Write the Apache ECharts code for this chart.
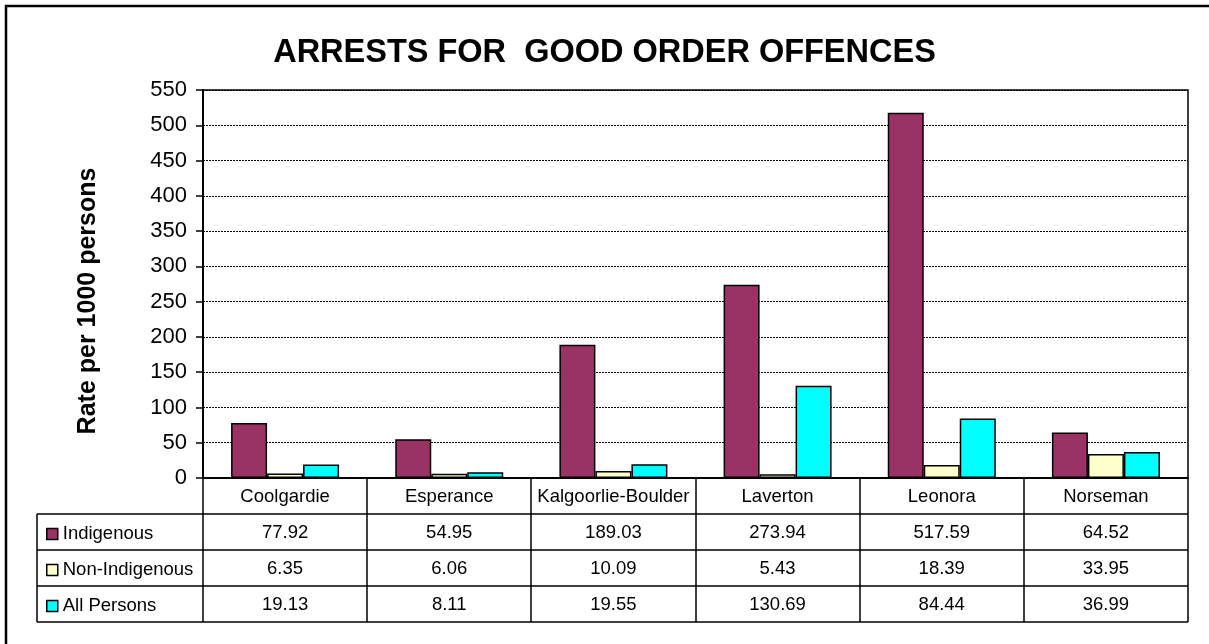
<!DOCTYPE html>
<html>
<head>
<meta charset="utf-8">
<title>Arrests for good order offences</title>
<script src="https://cdn.jsdelivr.net/npm/echarts@6/dist/echarts.min.js"></script>
<style>
  html, body { margin: 0; padding: 0; background: #fff; }
  #main { width: 1209px; height: 644px; }
</style>
</head>
<body>
<div id="main"></div>
<script>
// data
var towns = ['Coolgardie', 'Esperance', 'Kalgoorlie-Boulder', 'Laverton', 'Leonora', 'Norseman'];
var indigenous = [77.92, 54.95, 189.03, 273.94, 517.59, 64.52];
var nonIndigenous = [6.35, 6.06, 10.09, 5.43, 18.39, 33.95];
var allPersons = [19.13, 8.11, 19.55, 130.69, 84.44, 36.99];
var seriesNames = ['Indigenous', 'Non-Indigenous', 'All Persons'];
var seriesColors = ['#993366', '#FFFFCC', '#00FFFF'];
var yTicks = { min: 0, max: 550, step: 50 };

var FONT = 'Arial, "Liberation Sans", sans-serif';
var chart = echarts.init(document.getElementById('main'));

// table layout (plot area + 3 data rows below the axis)
var plotL = 203, plotR = 1188, plotT = 90, plotB = 478;
var rowH = 36, tableL = 37;

var tableLines = [];
for (var r = 1; r <= 4; r++) {
  tableLines.push({
    type: 'line',
    shape: { x1: tableL, y1: plotB + r * rowH, x2: plotR, y2: plotB + r * rowH },
    style: { stroke: '#000', lineWidth: 1.5 }
  });
}
tableLines.push({
  type: 'line',
  shape: { x1: tableL, y1: plotB + rowH, x2: tableL, y2: plotB + 4 * rowH },
  style: { stroke: '#000', lineWidth: 1.5 }
});
// column separators of the data table
var colW = (plotR - plotL) / towns.length;
for (var c = 0; c <= towns.length; c++) {
  var cx = Math.round(plotL + c * colW);
  tableLines.push({
    type: 'line',
    shape: { x1: cx, y1: plotB, x2: cx, y2: plotB + 4 * rowH },
    style: { stroke: '#000', lineWidth: 1.5 }
  });
}
// outer chart-area frame (only left/top are visible in the picture)
tableLines.push({
  type: 'rect',
  shape: { x: 6, y: 6, width: 1260, height: 700 },
  style: { fill: null, stroke: '#000', lineWidth: 2.5 }
});

var seriesData = [indigenous, nonIndigenous, allPersons];

var option = {
  animation: false,
  backgroundColor: '#fff',
  title: {
    text: 'ARRESTS FOR  GOOD ORDER OFFENCES',
    left: 'center',
    top: 32,
    textStyle: { fontFamily: FONT, fontSize: 32.5, fontWeight: 'bold', color: '#000' }
  },
  legend: {
    orient: 'vertical',
    left: 41,
    top: 518,
    itemWidth: 11,
    itemHeight: 11,
    itemGap: 14,
    icon: 'rect',
    data: seriesNames,
    itemStyle: { borderColor: '#000', borderWidth: 1.5 },
    textStyle: { fontFamily: FONT, fontSize: 18.5, color: '#000', lineHeight: 22 }
  },
  grid: {
    left: plotL, right: 1209 - plotR, top: plotT, bottom: 644 - plotB,
    show: true, borderColor: '#000', borderWidth: 1.5
  },
  xAxis: {
    type: 'category',
    data: towns,
    axisLine: { lineStyle: { color: '#000', width: 2 } },
    axisTick: { show: false },
    axisLabel: {
      margin: 1,
      interval: 0,
      fontFamily: FONT,
      fontSize: 18.5,
      lineHeight: rowH,
      color: '#000',
      formatter: function (v, i) {
        return [v, indigenous[i].toFixed(2), nonIndigenous[i].toFixed(2), allPersons[i].toFixed(2)].join('\n');
      }
    }
  },
  yAxis: {
    type: 'value',
    min: yTicks.min,
    max: yTicks.max,
    interval: yTicks.step,
    name: 'Rate per 1000 persons',
    nameLocation: 'middle',
    nameRotate: 90,
    nameGap: 102,
    nameTextStyle: { fontFamily: FONT, fontSize: 25, fontWeight: 'bold', color: '#000', padding: [0, 34, 0, 0] },
    axisLine: { show: true, lineStyle: { color: '#000', width: 2 } },
    axisTick: { show: true, length: 7, lineStyle: { color: '#000', width: 1.5 } },
    axisLabel: { fontFamily: FONT, fontSize: 22, color: '#000', margin: 16 },
    splitLine: { lineStyle: { color: '#000', width: 1, type: [2, 1] } }
  },
  series: seriesNames.map(function (name, k) {
    return {
      name: name,
      type: 'bar',
      data: seriesData[k],
      barWidth: 36,
      barGap: '0%',
      itemStyle: { color: seriesColors[k], borderColor: '#000', borderWidth: 1.5 }
    };
  }),
  graphic: tableLines
};

chart.setOption(option);
</script>
</body>
</html>
